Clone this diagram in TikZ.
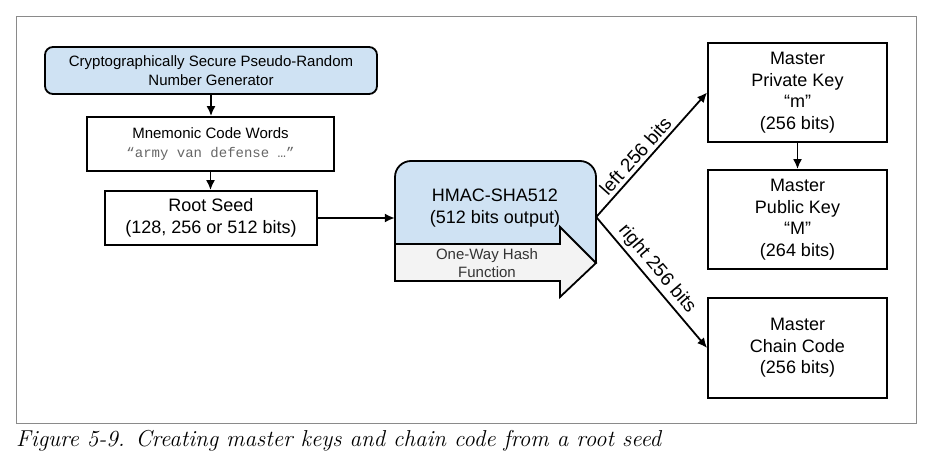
\documentclass[tikz,border=0pt]{standalone}
\usepackage{fontspec}
\newfontfamily\dsans{Liberation Sans}
\newfontfamily\dmono{Liberation Mono}
\usetikzlibrary{arrows.meta}
\definecolor{boxblue}{HTML}{CFE2F3}
\definecolor{arrowgray}{HTML}{F3F3F3}
\definecolor{framegray}{HTML}{8A8A8A}
\definecolor{mnemgray}{HTML}{666666}
\definecolor{hashtext}{HTML}{333333}
\begin{document}
\begin{tikzpicture}[x=1pt,y=-1pt,
  box/.style={draw=black, line width=1.8pt, align=center, inner sep=0pt, font=\dsans\fontsize{18}{21.5}\selectfont},
  smallbox/.style={box, font=\dsans\fontsize{15}{18.5}\selectfont},
  arr/.style={line width=1.8pt, -{Latex[length=10pt,width=9pt]}},
  lbl/.style={font=\dsans\fontsize{19}{21}\selectfont, inner xsep=0pt},
  outlineshape/.style={line width=1.8pt, line join=miter}
]
\useasboundingbox (0,0) rectangle (934,468);
\draw[framegray, line width=1pt] (16,17) rectangle (916,423);

\node[smallbox, fill=boxblue, rounded corners=8pt, minimum width=332pt, minimum height=47pt] (rng) at (211,70.5) {Cryptographically Secure Pseudo-Random\\Number Generator};
\node[smallbox, minimum width=247pt, minimum height=54pt] (mnem) at (210.5,144) {Mnemonic Code Words\\{\dmono\fontsize{14}{18.5}\selectfont\color{mnemgray}“army van defense …”}};
\node[box, minimum width=212pt, minimum height=54pt] (root) at (211,218) {Root Seed\\(128, 256 or 512 bits)};

% HMAC block
\node[minimum width=201pt, minimum height=102pt, inner sep=0pt] (hmac) at (495.5,212) {};
\draw[outlineshape, fill=boxblue, rounded corners=16pt] (395,255) -- (395,161) -- (596,161) -- (596,263);
\draw[outlineshape, fill=arrowgray] (395,244) -- (560,244) -- (560,227) -- (596,263) -- (560,297) -- (560,281) -- (395,281) -- cycle;
\node[font=\dsans\fontsize{18}{21.5}\selectfont, align=center] (hmactext) at (495,208) {HMAC-SHA512\\(512 bits output)};
\node[font=\dsans\fontsize{15}{18}\selectfont, align=center, text=hashtext] (hash) at (487,263) {One-Way Hash\\Function};

% right boxes
\node[box, minimum width=179pt, minimum height=99pt] (priv) at (797.5,92.5) {Master\\Private Key\\“m”\\(256 bits)};
\node[box, minimum width=179pt, minimum height=99pt] (pub) at (797.5,219.5) {Master\\Public Key\\“M”\\(264 bits)};
\node[box, minimum width=179pt, minimum height=100pt] (chain) at (797.5,348) {Master\\Chain Code\\(256 bits)};

% connectors
\draw[arr] (rng.south) -- (rng.south |- mnem.north);
\draw[arr] (mnem.south) -- (mnem.south |- root.north);
\draw[arr] (root.east) -- (root.east -| hmac.west);
\coordinate (split) at ([yshift=-5pt]hmac.east);
\draw[arr] (split) -- node[lbl, sloped, anchor=south, inner ysep=3.5pt, pos=0.43]{left 256 bits} (priv.west);
\draw[arr] (split) -- node[lbl, sloped, anchor=south, inner ysep=3pt, pos=0.46]{right 256 bits} (chain.west);
\draw[arr] (priv.south) -- (pub.north);

% caption
\node[anchor=base west, inner sep=0pt, font=\itshape\fontsize{23}{27}\selectfont] (cap) at (16,446) {Figure 5-9. Creating master keys and chain code from a root seed};
\end{tikzpicture}
\end{document}
